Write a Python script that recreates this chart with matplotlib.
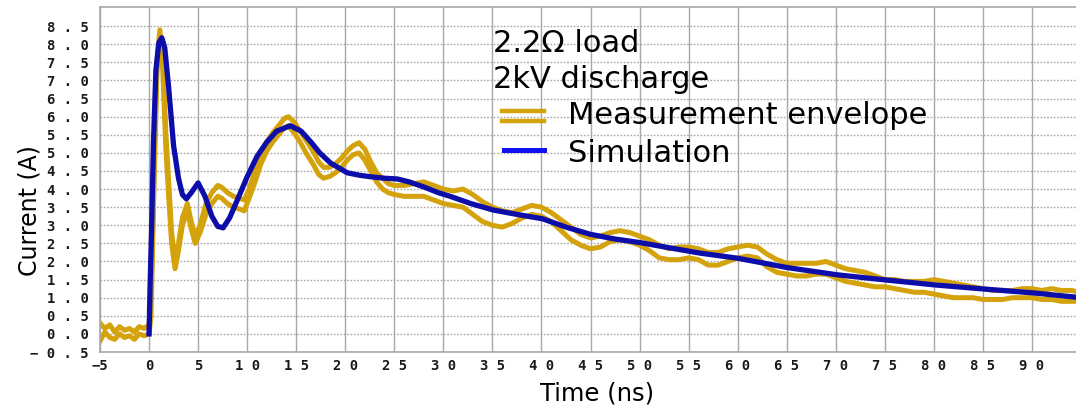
import matplotlib
matplotlib.use("Agg")
import matplotlib.pyplot as plt
from matplotlib.lines import Line2D
from matplotlib.ticker import FixedLocator, FixedFormatter

# ---- measured current envelope (upper and lower traces), time in ns, current in A
meas_t = [-5.0, -4.5, -4.0, -3.5, -3.0, -2.5, -2.0, -1.5, -1.0, -0.5, 0.0,
          0.2, 0.5, 0.8, 1.1, 1.4, 1.7, 2.0, 2.3, 2.65, 3.0, 3.4, 3.9, 4.3, 4.7,
          5.2, 5.8, 6.4, 7.0, 7.4, 8.0, 8.6, 9.2, 9.7, 10.2, 10.8, 11.4, 12.0,
          12.6, 13.2, 13.8, 14.2, 14.8, 15.4, 16.0, 16.7, 17.3, 17.8, 18.4, 19.0,
          19.6, 20.2, 20.8, 21.4, 22.0, 22.6, 23.2, 23.8, 24.4, 25.0, 26.0, 27.0,
          28.0, 29.0, 30.0, 31.0, 32.0, 33.0, 34.0, 35.0, 36.0, 37.0, 38.0, 39.0,
          40.0, 41.0, 42.0, 43.0, 44.0, 45.0, 46.0, 47.0, 48.0, 49.0, 50.0, 51.0,
          52.0, 53.0, 54.0, 55.0, 56.0, 57.0, 58.0, 59.0, 60.0, 61.0, 62.0, 63.0,
          64.0, 65.0, 66.0, 67.0, 68.0, 69.0, 70.0, 71.0, 72.0, 73.0, 74.0, 75.0,
          76.0, 77.0, 78.0, 79.0, 80.0, 81.0, 82.0, 83.0, 84.0, 85.0, 86.0, 87.0,
          88.0, 89.0, 90.0, 91.0, 92.0, 93.0, 94.0, 95.0]

meas_upper = [0.30, 0.15, 0.25, 0.05, 0.20, 0.10, 0.15, 0.05, 0.20, 0.15, 0.25,
              1.00, 4.50, 7.50, 8.40, 7.60, 5.60, 4.20, 2.80, 2.00, 2.50, 3.20, 3.60, 3.10, 2.70,
              3.00, 3.60, 3.90, 4.10, 4.05, 3.90, 3.80, 3.75, 3.70, 4.00, 4.50, 4.95, 5.30,
              5.55, 5.75, 5.95, 6.00, 5.85, 5.60, 5.35, 5.05, 4.75, 4.60, 4.60, 4.70,
              4.85, 5.05, 5.20, 5.28, 5.10, 4.75, 4.45, 4.30, 4.15, 4.10, 4.10, 4.15,
              4.20, 4.10, 4.00, 3.95, 4.00, 3.85, 3.65, 3.50, 3.40, 3.35, 3.45, 3.55,
              3.50, 3.35, 3.15, 2.95, 2.75, 2.65, 2.70, 2.80, 2.85, 2.80, 2.70, 2.60,
              2.45, 2.35, 2.40, 2.40, 2.35, 2.25, 2.25, 2.35, 2.40, 2.45, 2.40, 2.20,
              2.05, 1.95, 1.95, 1.95, 1.95, 2.00, 1.90, 1.80, 1.75, 1.70, 1.60, 1.50,
              1.50, 1.45, 1.45, 1.45, 1.50, 1.45, 1.40, 1.35, 1.30, 1.25, 1.20, 1.20,
              1.20, 1.25, 1.25, 1.20, 1.25, 1.20, 1.20, 1.15]

meas_lower = [-0.20, 0.05, -0.10, -0.15, 0.00, -0.10, -0.05, -0.15, 0.00, -0.05, 0.00,
              0.50, 4.00, 7.20, 8.20, 7.30, 5.20, 3.80, 2.50, 1.80, 2.30, 3.00, 3.40, 2.90, 2.50,
              2.80, 3.30, 3.60, 3.80, 3.75, 3.60, 3.50, 3.45, 3.40, 3.75, 4.20, 4.70, 5.05,
              5.30, 5.50, 5.70, 5.75, 5.55, 5.30, 5.00, 4.70, 4.40, 4.30, 4.35, 4.45,
              4.60, 4.80, 4.95, 5.00, 4.80, 4.50, 4.20, 4.00, 3.90, 3.85, 3.80, 3.80,
              3.80, 3.70, 3.60, 3.55, 3.50, 3.30, 3.10, 3.00, 2.95, 3.05, 3.20, 3.30,
              3.25, 3.10, 2.85, 2.60, 2.45, 2.35, 2.40, 2.55, 2.60, 2.55, 2.45, 2.30,
              2.10, 2.05, 2.05, 2.10, 2.05, 1.90, 1.90, 2.00, 2.10, 2.15, 2.10, 1.85,
              1.70, 1.65, 1.60, 1.60, 1.65, 1.65, 1.55, 1.45, 1.40, 1.35, 1.30, 1.30,
              1.25, 1.20, 1.15, 1.15, 1.10, 1.05, 1.00, 1.00, 1.00, 0.95, 0.95, 0.95,
              1.00, 1.00, 1.00, 0.95, 0.95, 0.90, 0.90, 0.90]

# ---- simulated current
sim_t = [0.0, 0.1, 0.27, 0.45, 0.7, 1.0, 1.3, 1.6, 2.0, 2.5, 3.0, 3.4, 3.8, 4.3,
         5.0, 5.7, 6.4, 7.0, 7.55, 8.2, 9.0, 10.0, 11.0, 12.0, 13.0, 14.4, 15.5,
         16.5, 17.4, 18.5, 20.2, 21.5, 22.6, 24.0, 25.3, 26.5, 28.0, 29.5, 30.7,
         32.8, 35.1, 37.5, 40.1, 42.5, 45.0, 47.5, 50.1, 53.0, 56.2, 60.0, 65.1,
         70.2, 75.1, 80.2, 85.1, 90.2, 95.0]
sim_i = [0.0, 1.27, 3.0, 5.3, 7.3, 8.05, 8.18, 7.9, 6.8, 5.2, 4.3, 3.85, 3.73, 3.9,
         4.17, 3.8, 3.25, 2.97, 2.93, 3.2, 3.7, 4.34, 4.9, 5.3, 5.6, 5.75, 5.6,
         5.3, 5.0, 4.72, 4.45, 4.38, 4.34, 4.3, 4.28, 4.2, 4.06, 3.9, 3.8,
         3.6, 3.42, 3.3, 3.18, 2.95, 2.75, 2.62, 2.52, 2.38, 2.23, 2.09, 1.83,
         1.63, 1.49, 1.35, 1.24, 1.13, 1.0]

x_ticks = [-5, 0, 5, 10, 15, 20, 25, 30, 35, 40, 45, 50, 55, 60, 65, 70, 75, 80, 85, 90]
y_ticks = [-0.5, 0.0, 0.5, 1.0, 1.5, 2.0, 2.5, 3.0, 3.5, 4.0, 4.5, 5.0, 5.5,
           6.0, 6.5, 7.0, 7.5, 8.0, 8.5]
x_tick_labels = ["\u2212" + str(abs(v)) if v < 0 else " ".join(str(v)) for v in x_ticks]
y_tick_labels = [" ".join(("\u2212" if v < 0 else "") + f"{abs(v):.1f}") for v in y_ticks]

GOLD = "#d4a20a"
SIM_BLUE = "#0d0daa"
LEG_BLUE = "#1010f0"
GRID = "#a8a8a8"

W, H = 1076, 407
fig = plt.figure(figsize=(W / 100, H / 100), dpi=100)
ax = fig.add_axes([100 / W, 55 / H, 1.0 - 100 / W + 0.002, 345 / H])

ax.set_xlim(-5, 94.7)
ax.set_ylim(-0.5, 9.03)

# grid: solid verticals, dotted horizontals
for xv in x_ticks:
    ax.axvline(xv, color=GRID, lw=1.0, zorder=0)
for yv in y_ticks:
    ax.axhline(yv, color=GRID, lw=1.0, ls=(0, (1.2, 1.2)), zorder=0)

ax.plot(meas_t, meas_upper, color=GOLD, lw=3.6, solid_joinstyle="round", zorder=2)
ax.plot(meas_t, meas_lower, color=GOLD, lw=3.6, solid_joinstyle="round", zorder=2)
ax.plot(sim_t, sim_i, color=SIM_BLUE, lw=3.8, zorder=3)

ax.xaxis.set_major_locator(FixedLocator(x_ticks))
ax.xaxis.set_major_formatter(FixedFormatter(x_tick_labels))
ax.yaxis.set_major_locator(FixedLocator(y_ticks))
ax.yaxis.set_major_formatter(FixedFormatter(y_tick_labels))
ax.tick_params(axis="x", length=0, pad=5)
ax.tick_params(axis="y", length=0, pad=8)
for lab in ax.get_xticklabels() + ax.get_yticklabels():
    lab.set_fontfamily("DejaVu Sans Mono")
    lab.set_fontweight("bold")
    lab.set_fontsize(10)
    lab.set_color("#1a1a1a")

for side in ("left", "bottom", "top"):
    ax.spines[side].set_color(GRID)
    ax.spines[side].set_linewidth(1.2)
ax.spines["right"].set_visible(False)

fig.text(30 / W, 1 - 211 / H, "Current (A)", rotation=90, ha="center", va="center",
         fontsize=17, family=["Liberation Sans Narrow", "DejaVu Sans"], color="black")
fig.text(597 / W, 1 - 393 / H, "Time (ns)", ha="center", va="center",
         fontsize=17.5, family="DejaVu Sans", color="black")

# annotation block and legend
txt_kw = dict(fontsize=22, family="DejaVu Sans", color="black",
              ha="left", va="center")
fig.text(493 / W, 1 - 44 / H, "2.2\u03a9 load", **txt_kw)
fig.text(493 / W, 1 - 79 / H, "2kV discharge", **txt_kw)
fig.text(568 / W, 1 - 116 / H, "Measurement envelope", **txt_kw)
fig.text(568 / W, 1 - 153 / H, "Simulation", **txt_kw)

for yp in (111, 121):
    fig.add_artist(Line2D([502 / W, 544 / W], [1 - yp / H, 1 - yp / H],
                          color=GOLD, lw=3.2, transform=fig.transFigure))
fig.add_artist(Line2D([504 / W, 544 / W], [1 - 150 / H, 1 - 150 / H],
                      color=LEG_BLUE, lw=3.6, transform=fig.transFigure))

fig.savefig("out.png", dpi=100, facecolor="white")
